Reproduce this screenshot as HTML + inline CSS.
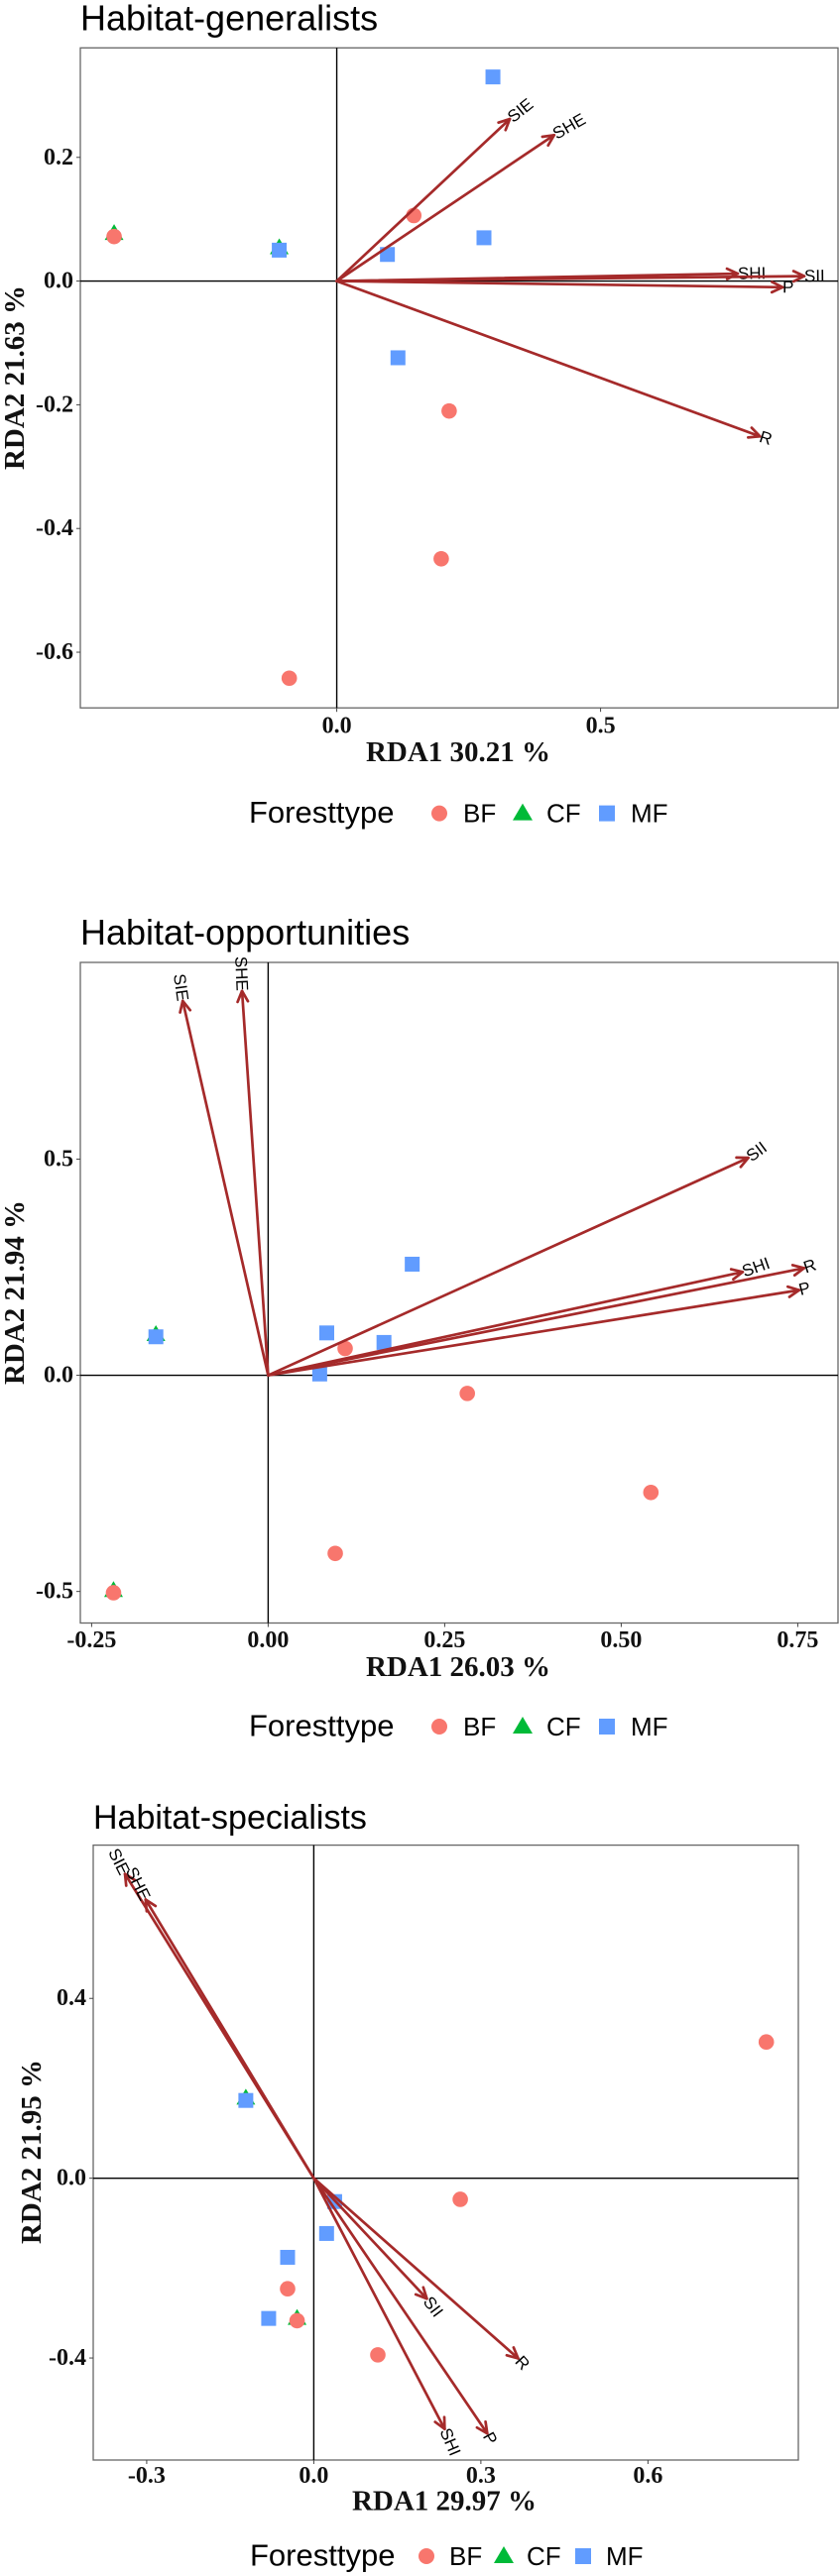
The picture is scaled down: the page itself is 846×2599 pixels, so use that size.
<!DOCTYPE html>
<html><head><meta charset="utf-8"><style>
html,body{margin:0;padding:0;background:#fff}
svg{display:block}
</style></head><body>
<svg id="chart" width="846" height="2599" xmlns="http://www.w3.org/2000/svg"></svg>
<script>
// ---- Panel 1: Habitat-generalists ----
const g_bfX = [-0.422, 0.146, 0.213, 0.198, -0.090];
const g_bfY = [0.072, 0.106, -0.210, -0.449, -0.642];
const g_cfX = [-0.422, -0.109];
const g_cfY = [0.076, 0.053];
const g_mfX = [-0.109, 0.296, 0.279, 0.096, 0.116];
const g_mfY = [0.050, 0.330, 0.070, 0.043, -0.124];
const g_vecNames = ["SIE", "SHE", "SHI", "SII", "P", "R"];
const g_vecX = [0.328, 0.412, 0.760, 0.886, 0.845, 0.802];
const g_vecY = [0.262, 0.236, 0.012, 0.008, -0.010, -0.251];
const g_xTicks = [0.0, 0.5];
const g_xTickLabels = ["0.0", "0.5"];
const g_yTicks = [0.2, 0.0, -0.2, -0.4, -0.6];
const g_yTickLabels = ["0.2", "0.0", "-0.2", "-0.4", "-0.6"];

// ---- Panel 2: Habitat-opportunities ----
const o_bfX = [-0.219, 0.109, 0.282, 0.542, 0.095];
const o_bfY = [-0.503, 0.062, -0.042, -0.271, -0.412];
const o_cfX = [-0.159, -0.219];
const o_cfY = [0.093, -0.499];
const o_mfX = [-0.159, 0.204, 0.083, 0.164, 0.073];
const o_mfY = [0.089, 0.257, 0.098, 0.076, 0.003];
const o_vecNames = ["SIE", "SHE", "SII", "SHI", "R", "P"];
const o_vecX = [-0.121, -0.037, 0.680, 0.672, 0.759, 0.752];
const o_vecY = [0.866, 0.889, 0.503, 0.239, 0.248, 0.197];
const o_xTicks = [-0.25, 0.0, 0.25, 0.5, 0.75];
const o_xTickLabels = ["-0.25", "0.00", "0.25", "0.50", "0.75"];
const o_yTicks = [0.5, 0.0, -0.5];
const o_yTickLabels = ["0.5", "0.0", "-0.5"];

// ---- Panel 3: Habitat-specialists ----
const s_bfX = [0.8125, 0.263, -0.047, -0.030, 0.115];
const s_bfY = [0.303, -0.047, -0.246, -0.317, -0.393];
const s_cfX = [-0.122, -0.030];
const s_cfY = [0.177, -0.313];
const s_mfX = [-0.122, 0.0375, 0.023, -0.047, -0.081];
const s_mfY = [0.173, -0.052, -0.123, -0.176, -0.312];
const s_vecNames = ["SIE", "SHE", "SII", "R", "SHI", "P"];
const s_vecX = [-0.339, -0.302, 0.203, 0.367, 0.235, 0.3115];
const s_vecY = [0.677, 0.620, -0.268, -0.401, -0.558, -0.568];
const s_xTicks = [-0.3, 0.0, 0.3, 0.6];
const s_xTickLabels = ["-0.3", "0.0", "0.3", "0.6"];
const s_yTicks = [0.4, 0.0, -0.4];
const s_yTickLabels = ["0.4", "0.0", "-0.4"];

const NS = "http://www.w3.org/2000/svg";
const svg = document.getElementById("chart");
const BF = "#F8766D", CF = "#00BA38", MF = "#619CFF", ARROW = "#A52A2A";
const SERIF = '"Liberation Serif", serif', SANS = '"Liberation Sans", sans-serif';

function mk(tag, attrs, parent) {
  const e = document.createElementNS(NS, tag);
  for (const k in attrs) e.setAttribute(k, attrs[k]);
  (parent || svg).appendChild(e);
  return e;
}

function drawPanel(c) {
  const g = mk("g", {});
  
  
  const sx = v => c.left + (v - c.xd[0]) / (c.xd[1] - c.xd[0]) * (c.right - c.left);
  const sy = v => c.bottom - (v - c.yd[0]) / (c.yd[1] - c.yd[0]) * (c.bottom - c.top);

  const t = mk("text", {x: c.left, y: c.titleY, "font-family": SANS, "font-size": c.titleSize, fill: "#000"}, g);
  t.textContent = c.title;
  
  

  const box = mk("rect", {x: c.left, y: c.top, width: c.right - c.left, height: c.bottom - c.top, fill: "#fff", stroke: "#666", "stroke-width": 1.3}, g);
  
  

  const zx = mk("line", {x1: sx(0), x2: sx(0), y1: c.top, y2: c.bottom, stroke: "#000", "stroke-width": 1.4}, g);
  
  
  const zy = mk("line", {x1: c.left, x2: c.right, y1: sy(0), y2: sy(0), stroke: "#000", "stroke-width": 1.4}, g);
  
  

  c.xt.forEach((v, i) => {
    mk("line", {x1: sx(v), x2: sx(v), y1: c.bottom, y2: c.bottom + 4, stroke: "#444", "stroke-width": 1}, g);
    const l = mk("text", {x: sx(v), y: c.xTickY, "text-anchor": "middle", "dominant-baseline": "central", "font-family": SERIF, "font-weight": "bold", "font-size": 24, fill: "#111"}, g);
    l.textContent = c.xtl[i];
    
    
  });
  c.yt.forEach((v, i) => {
    mk("line", {x1: c.left - 4, x2: c.left, y1: sy(v), y2: sy(v), stroke: "#444", "stroke-width": 1}, g);
    const l = mk("text", {x: c.left - 7, y: sy(v), "text-anchor": "end", "dominant-baseline": "central", "font-family": SERIF, "font-weight": "bold", "font-size": 24, fill: "#111"}, g);
    l.textContent = c.ytl[i];
    
    
  });

  const xt = mk("text", {x: c.xTitleX, y: c.xTitleY, "text-anchor": "middle", "dominant-baseline": "central", "font-family": SERIF, "font-weight": "bold", "font-size": 29, fill: "#111"}, g);
  xt.textContent = c.xTitle;
  
  
  const yt = mk("text", {x: 0, y: 0, "text-anchor": "middle", "dominant-baseline": "central", "font-family": SERIF, "font-weight": "bold", "font-size": 29, fill: "#111", transform: `translate(${c.yTitleX},${c.yTitleY}) rotate(-90)`}, g);
  yt.textContent = c.yTitle;
  
  

  c.cfX.forEach((v, i) => {
    const x = sx(v), y = sy(c.cfY[i]), r = 10;
    const p = mk("polygon", {points: `${x},${y - r} ${x - r * 0.95},${y + r * 0.6} ${x + r * 0.95},${y + r * 0.6}`, fill: CF}, g);
    
    
  });
  c.bfX.forEach((v, i) => {
    const p = mk("circle", {cx: sx(v), cy: sy(c.bfY[i]), r: 7.8, fill: BF}, g);
    
    
  });
  c.mfX.forEach((v, i) => {
    const p = mk("rect", {x: sx(v) - 7.5, y: sy(c.mfY[i]) - 7.5, width: 15, height: 15, fill: MF}, g);
    
    
  });

  const ox = sx(0), oy = sy(0);
  c.vn.forEach((name, i) => {
    const tx = sx(c.vx[i]), ty = sy(c.vy[i]);
    const ag = mk("g", {}, g);
    
    
    mk("line", {x1: ox, y1: oy, x2: tx, y2: ty, stroke: ARROW, "stroke-width": 2.7, "stroke-linecap": "round"}, ag);
    const a = Math.atan2(ty - oy, tx - ox), L = 12, s = 0.45;
    mk("polyline", {points: `${tx - L * Math.cos(a - s)},${ty - L * Math.sin(a - s)} ${tx},${ty} ${tx - L * Math.cos(a + s)},${ty - L * Math.sin(a + s)}`, fill: "none", stroke: ARROW, "stroke-width": 2.7, "stroke-linecap": "round", "stroke-linejoin": "round"}, ag);
    const ang = -Math.atan(c.vy[i] / c.vx[i]) * 180 / Math.PI;
    const pos = c.vx[i] >= 0;
    const lab = mk("text", {x: tx, y: ty, "text-anchor": pos ? "start" : "end", "dominant-baseline": "central", "font-family": SANS, "font-size": 17, fill: "#000", transform: `rotate(${ang} ${tx} ${ty})`}, ag);
    lab.textContent = name;
    
    
  });

  const lg = mk("g", {}, g);
  
  
  const L = c.leg, ly = c.legY;
  const lt = mk("text", {x: L[0], y: ly, "dominant-baseline": "central", "font-family": SANS, "font-size": 31, fill: "#000"}, lg);
  lt.textContent = "Foresttype";
  
  
  const e1 = mk("circle", {cx: L[1], cy: ly + 1, r: 8, fill: BF}, lg);
  
  
  const e2 = mk("polygon", {points: `${L[3]},${ly - 9} ${L[3] - 10},${ly + 8} ${L[3] + 10},${ly + 8}`, fill: CF}, lg);
  
  
  const e3 = mk("rect", {x: L[5] - 8, y: ly - 7, width: 16, height: 16, fill: MF}, lg);
  
  
  [["BF", L[2]], ["CF", L[4]], ["MF", L[6]]].forEach(([s, x]) => {
    const tt = mk("text", {x: x, y: ly + 1, "dominant-baseline": "central", "font-family": SANS, "font-size": 26, fill: "#000"}, lg);
    tt.textContent = s;
    
    
  });
}

drawPanel({id: "generalists", title: "Habitat-generalists", titleSize: 36, titleY: 30.5,
  left: 81, right: 845, top: 48.3, bottom: 714.2, xd: [-0.486, 0.950], yd: [-0.690, 0.377],
  bfX: g_bfX, bfY: g_bfY, cfX: g_cfX, cfY: g_cfY, mfX: g_mfX, mfY: g_mfY,
  vn: g_vecNames, vx: g_vecX, vy: g_vecY, xt: g_xTicks, xtl: g_xTickLabels, yt: g_yTicks, ytl: g_yTickLabels,
  xTickY: 732.5, xTitle: "RDA1 30.21 %", xTitleX: 462, xTitleY: 759, yTitle: "RDA2 21.63 %", yTitleX: 15, yTitleY: 381,
  legY: 819.6, leg: [251, 443, 467, 527, 551, 612, 636]});

drawPanel({id: "opportunities", title: "Habitat-opportunities", titleSize: 36, titleY: 953,
  left: 81, right: 845, top: 971, bottom: 1637.5, xd: [-0.266, 0.807], yd: [-0.573, 0.955],
  bfX: o_bfX, bfY: o_bfY, cfX: o_cfX, cfY: o_cfY, mfX: o_mfX, mfY: o_mfY,
  vn: o_vecNames, vx: o_vecX, vy: o_vecY, xt: o_xTicks, xtl: o_xTickLabels, yt: o_yTicks, ytl: o_yTickLabels,
  xTickY: 1655, xTitle: "RDA1 26.03 %", xTitleX: 462, xTitleY: 1682, yTitle: "RDA2 21.94 %", yTitleX: 15, yTitleY: 1304,
  legY: 1741, leg: [251, 443, 467, 527, 551, 612, 636]});

drawPanel({id: "specialists", title: "Habitat-specialists", titleSize: 34, titleY: 1845,
  left: 94, right: 805, top: 1861.6, bottom: 2482, xd: [-0.396, 0.870], yd: [-0.627, 0.741],
  bfX: s_bfX, bfY: s_bfY, cfX: s_cfX, cfY: s_cfY, mfX: s_mfX, mfY: s_mfY,
  vn: s_vecNames, vx: s_vecX, vy: s_vecY, xt: s_xTicks, xtl: s_xTickLabels, yt: s_yTicks, ytl: s_yTickLabels,
  xTickY: 2498, xTitle: "RDA1 29.97 %", xTitleX: 448, xTitleY: 2523.5, yTitle: "RDA2 21.95 %", yTitleX: 32, yTitleY: 2171,
  legY: 2578, leg: [252, 430, 453, 508, 531, 588, 611]});
</script>
</body></html>
